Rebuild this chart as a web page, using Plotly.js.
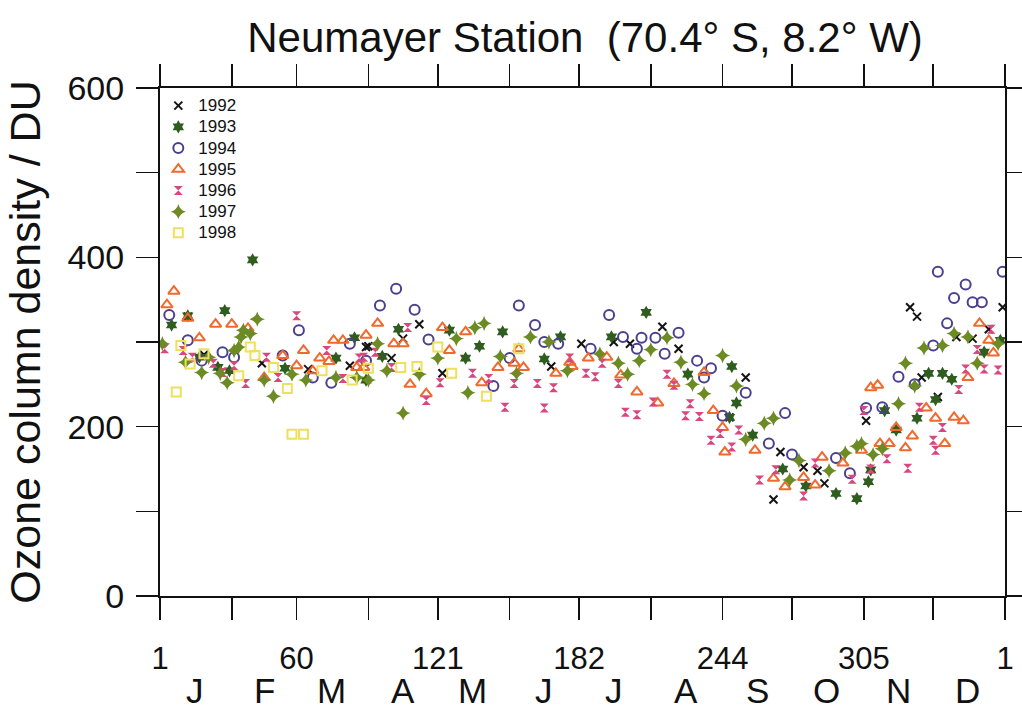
<!DOCTYPE html>
<html>
<head>
<meta charset="utf-8">
<script src="https://cdn.plot.ly/plotly-3.0.1.min.js"></script>
<style>html,body{margin:0;padding:0;background:#fff;}#chart{width:1022px;height:719px;}</style>
</head>
<body>
<div id="chart"></div>
<script>
// ---- data (day of year, total ozone in DU) ----
const years = ["1992","1993","1994","1995","1996","1997","1998"];

const days1992 = [13,20,45,65,83,90,91,101,106,113,123,170,183,197,204,218,225,247,254,266,269,279,285,288,306,325,328,330,337,345,352,359,365];
const oz1992   = [330,285,275,268,272,294,295,281,304,321,263,271,298,300,298,318,292,211,258,114,170,152,148,133,207,341,330,258,235,306,304,315,341];

const days1993 = [6,13,18,26,29,31,41,55,77,85,90,97,104,126,133,139,149,167,174,196,211,229,247,248,250,257,270,280,293,302,307,308,314,319,328,333,336,339,343,357,364];
const oz1993   = [320,331,282,270,337,266,397,269,281,305,255,283,315,314,281,295,312,280,306,306,335,262,211,271,228,190,150,130,121,115,135,149,219,196,210,263,232,263,256,288,302];

const days1994 = [5,13,19,28,33,54,61,67,75,83,90,96,103,111,117,145,152,156,163,167,173,187,195,201,207,209,215,219,225,233,236,239,244,254,264,271,274,293,299,306,313,320,327,335,337,341,344,349,352,356,365];
const oz1994   = [332,302,278,288,282,284,314,258,252,298,278,343,363,338,303,248,281,343,320,300,298,292,332,306,292,305,305,286,311,278,258,269,213,240,180,216,167,163,145,222,223,259,250,296,383,322,352,368,347,347,383];

const days1995 = [4,7,13,18,25,32,39,46,54,60,63,67,70,74,76,80,86,89,90,95,102,106,109,116,123,126,133,140,147,154,156,158,172,178,179,186,194,200,207,216,223,236,240,244,245,258,266,271,279,284,287,296,304,308,311,312,316,319,323,326,332,336,340,344,348,350,355,359,361];
const oz1995   = [344,360,328,305,321,321,316,258,284,272,290,266,281,277,302,302,270,270,308,322,298,298,250,239,317,290,312,252,270,275,292,270,263,276,271,281,282,261,241,228,251,264,219,199,170,172,139,129,140,131,164,157,172,246,249,180,180,199,175,189,222,210,180,211,207,258,322,302,287];

const days1996 = [3,11,15,24,28,33,38,47,52,60,73,80,87,89,94,101,108,116,122,136,143,150,154,164,167,171,178,185,189,192,199,202,207,214,220,223,228,230,234,239,243,248,251,260,267,279,284,300,305,308,315,324,329,335,336,339,346,349,354,357,360,363];
const oz1996   = [292,290,282,275,264,272,251,282,258,331,290,257,281,282,288,270,317,231,252,263,257,223,251,251,222,246,281,263,259,275,251,217,214,229,262,249,213,227,212,184,192,176,196,137,149,118,157,138,219,150,162,151,223,184,172,199,244,268,291,268,315,267];

const days1997 = [2,12,19,22,27,30,33,35,36,37,40,43,46,50,58,64,77,86,91,95,99,106,113,121,129,134,137,141,148,155,161,169,177,191,199,203,208,213,220,226,231,236,244,250,254,262,266,273,277,290,297,302,304,309,313,320,323,327,331,339,344,350,354,363];
const oz1997   = [298,276,264,282,263,252,290,294,306,314,310,327,255,236,262,255,258,258,255,298,266,216,262,281,304,240,317,322,283,263,306,300,266,286,275,262,278,291,305,276,250,239,284,248,185,204,210,137,160,148,169,177,180,167,174,227,275,248,293,296,310,306,275,298];

const days1998 = [8,10,14,20,35,40,42,50,56,58,63,71,84,91,105,112,121,127,142,156];
const oz1998   = [241,296,274,286,260,294,284,270,245,191,191,266,255,269,270,271,294,263,236,292];

// ---- axis labels ----
const xTickVals = [1,32,60,91,121,152,182,213,244,274,305,335,366];
const xTickText = ["1","","60","","121","","182","","244","","305","","1"];
const yTickVals = [0,100,200,300,400,500,600];
const yTickText = ["0","","200","","400","","600"];
const monthLetters = ["J","F","M","A","M","J","J","A","S","O","N","D"];
const monthMid = [16,46,75,106,136,167,197,228,259,289,320,350];

const allDays = [days1992,days1993,days1994,days1995,days1996,days1997,days1998];
const allOz   = [oz1992,oz1993,oz1994,oz1995,oz1996,oz1997,oz1998];
const markerStyles = [
  {symbol:"x-thin", size:8, color:"#141414", line:{width:2, color:"#141414"}},
  {symbol:"hexagram", size:10, color:"#2f5d1f", line:{width:0}},
  {symbol:"circle-open", size:10, color:"#4b3f8e", line:{width:2}},
  {symbol:"triangle-up-open", size:10, color:"#f1692c", line:{width:2}},
  {symbol:"hourglass", size:9, color:"#d9477e", line:{width:0}},
  {symbol:"star-diamond", size:11, color:"#6c8b25", line:{width:0}},
  {symbol:"square-open", size:9, color:"#efe05c", line:{width:2}}
];

const traces = years.map((y,i)=>({
  type:"scatter", mode:"markers",
  name:'<span style="font-size:17px">' + y + '</span>',
  x: allDays[i], y: allOz[i],
  marker: markerStyles[i],
  cliponaxis:true
}));

const annotations = monthLetters.map((m,i)=>({
  text:m, x:monthMid[i], xref:"x", y:-0.186, yref:"paper",
  showarrow:false, xanchor:"center", yanchor:"middle",
  font:{size:35, family:"Liberation Sans, Arial, sans-serif", color:"#111"}
}));

const layout = {
  width:1022, height:719,
  margin:{l:160, r:17, t:88, b:123},
  paper_bgcolor:"#ffffff", plot_bgcolor:"#ffffff",
  font:{family:"Liberation Sans, Arial, sans-serif", color:"#111"},
  showlegend:true,
  title:{text:"Neumayer Station  (70.4° S, 8.2° W)", font:{size:42}, x:0.503, xref:"paper", xanchor:"center", y:1-37/719, yref:"container", yanchor:"middle"},
  xaxis:{range:[1,366], tickmode:"array", tickvals:xTickVals, ticktext:xTickText,
    ticks:"outside", ticklen:22, tickwidth:1.5, tickcolor:"#111",
    showline:true, linewidth:2, linecolor:"#111", mirror:"ticks",
    showgrid:false, zeroline:false, tickfont:{size:31}, ticklabelstandoff:12},
  yaxis:{range:[0,600], tickmode:"array", tickvals:yTickVals, ticktext:yTickText,
    ticks:"outside", ticklen:22, tickwidth:1.5, tickcolor:"#111",
    showline:true, linewidth:2, linecolor:"#111", mirror:"ticks",
    showgrid:false, zeroline:false, tickfont:{size:34}, ticklabelstandoff:5,
    title:{text:"Ozone column density / DU", font:{size:43}, standoff:13}},
  legend:{x:-0.002, y:0.996, xanchor:"left", yanchor:"top", bgcolor:"rgba(0,0,0,0)",
    font:{size:14}, tracegroupgap:0, itemwidth:30},
  annotations: annotations
};

Plotly.newPlot("chart", traces, layout, {displayModeBar:false, staticPlot:true});
</script>
</body>
</html>
